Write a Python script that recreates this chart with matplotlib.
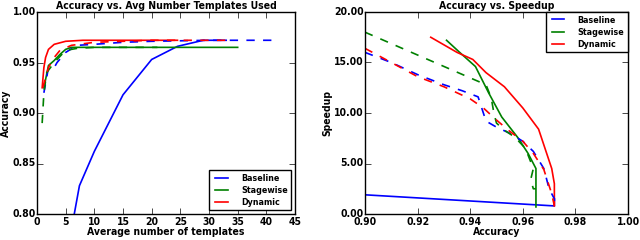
import matplotlib
matplotlib.use("Agg")
import matplotlib.pyplot as plt
from matplotlib.ticker import FormatStrFormatter

plt.style.use("classic")
plt.rcParams["font.family"] = ["DejaVu Sans"]
plt.rcParams["font.stretch"] = "condensed"
plt.rcParams["font.size"] = 7.5
plt.rcParams["font.weight"] = "bold"
plt.rcParams["axes.titleweight"] = "bold"
plt.rcParams["axes.labelweight"] = "bold"
plt.rcParams["xtick.major.pad"] = 2
plt.rcParams["ytick.major.pad"] = 1
plt.rcParams["lines.linewidth"] = 1.2

# left panel: accuracy vs. average number of templates
base_t_x = [6.5, 7.4, 10.0, 15.0, 20.0, 24.5, 29.0, 33.0]
base_t_y = [0.800, 0.828, 0.862, 0.918, 0.953, 0.966, 0.972, 0.972]
base_td_x = [1.2, 2.0, 3.0, 3.5, 5.0, 7.0, 10.0, 15.0, 20.0, 30.0, 41.5]
base_td_y = [0.920, 0.945, 0.945, 0.950, 0.960, 0.967, 0.968, 0.970, 0.971, 0.972, 0.972]
stage_t_x = [1.2, 2.0, 3.0, 4.0, 5.0, 6.0, 35.0]
stage_t_y = [0.925, 0.947, 0.952, 0.958, 0.963, 0.965, 0.965]
stage_td_x = [0.9, 1.2, 1.7, 3.0, 5.0, 7.0, 10.0, 21.0]
stage_td_y = [0.890, 0.920, 0.940, 0.950, 0.962, 0.964, 0.965, 0.965]
dyn_t_x = [0.9, 1.2, 1.5, 2.0, 3.0, 5.0, 8.0, 24.5]
dyn_t_y = [0.925, 0.945, 0.955, 0.963, 0.968, 0.971, 0.972, 0.972]
dyn_td_x = [1.0, 1.5, 2.0, 3.0, 4.0, 6.0, 10.0, 20.0, 33.5]
dyn_td_y = [0.925, 0.935, 0.945, 0.955, 0.962, 0.967, 0.970, 0.972, 0.972]

# right panel: speedup vs. accuracy
base_s_x = [0.900, 0.972, 0.972]
base_s_y = [1.9, 0.8, 1.5]
base_sd_x = [0.900, 0.910, 0.920, 0.930, 0.937, 0.943, 0.945, 0.946, 0.950, 0.955,
             0.960, 0.964, 0.968, 0.970, 0.972, 0.972]
base_sd_y = [16.0, 15.0, 13.8, 12.8, 12.2, 11.6, 10.0, 9.2, 8.6, 8.0,
             7.2, 6.2, 4.5, 2.5, 1.5, 0.8]
stage_s_x = [0.931, 0.936, 0.942, 0.947, 0.952, 0.958, 0.962, 0.965, 0.965]
stage_s_y = [17.2, 16.0, 14.6, 12.0, 9.6, 7.6, 6.0, 4.5, 0.7]
stage_sd_x = [0.900, 0.946, 0.948, 0.949, 0.950, 0.953, 0.957, 0.961, 0.964, 0.963, 0.964, 0.965]
stage_sd_y = [18.0, 12.8, 11.5, 10.0, 9.0, 8.3, 7.6, 6.5, 4.5, 3.4, 2.5, 2.5]
dyn_s_x = [0.925, 0.935, 0.941, 0.946, 0.953, 0.960, 0.966, 0.971, 0.972, 0.972]
dyn_s_y = [17.5, 16.0, 15.3, 14.0, 12.6, 10.5, 8.4, 4.5, 3.0, 0.8]
dyn_sd_x = [0.900, 0.910, 0.920, 0.930, 0.940, 0.945, 0.950, 0.955, 0.960, 0.964,
            0.968, 0.971, 0.972]
dyn_sd_y = [16.4, 15.0, 13.6, 12.6, 11.4, 10.5, 9.3, 8.2, 7.2, 6.0, 4.4, 2.0, 0.8]

fig = plt.figure(figsize=(6.4, 2.4), dpi=100)
fig.patch.set_facecolor("white")
ax1 = fig.add_axes([37 / 640, 26 / 240, 258 / 640, 202 / 240])
ax2 = fig.add_axes([365 / 640, 26 / 240, 263 / 640, 202 / 240])

ax1.plot(base_t_x, base_t_y, "b-", label="Baseline")
ax1.plot(stage_t_x, stage_t_y, "g-", label="Stagewise")
ax1.plot(dyn_t_x, dyn_t_y, "r-", label="Dynamic")
ax1.plot(base_td_x, base_td_y, "b--")
ax1.plot(stage_td_x, stage_td_y, "g--")
ax1.plot(dyn_td_x, dyn_td_y, "r--")
ax1.set_xlim(0, 45)
ax1.set_ylim(0.80, 1.00)
ax1.yaxis.set_major_formatter(FormatStrFormatter("%.2f"))
ax1.set_title("Accuracy vs. Avg Number Templates Used", fontsize=7.5, pad=2)
ax1.set_xlabel("Average number of templates", labelpad=0)
ax1.set_ylabel("Accuracy", labelpad=1)
ax1.legend(loc="lower right", fontsize=6.4, handlelength=2.0, borderpad=0.4,
           labelspacing=0.35, handletextpad=1.2, borderaxespad=0.4)

ax2.plot(base_s_x, base_s_y, "b-", label="Baseline")
ax2.plot(stage_s_x, stage_s_y, "g-", label="Stagewise")
ax2.plot(dyn_s_x, dyn_s_y, "r-", label="Dynamic")
ax2.plot(base_sd_x, base_sd_y, "b--")
ax2.plot(stage_sd_x, stage_sd_y, "g--")
ax2.plot(dyn_sd_x, dyn_sd_y, "r--")
ax2.set_xlim(0.90, 1.00)
ax2.set_ylim(0, 20)
ax2.set_xticks([0.90, 0.92, 0.94, 0.96, 0.98, 1.00])
ax2.set_yticks([0, 5, 10, 15, 20])
ax2.xaxis.set_major_formatter(FormatStrFormatter("%.2f"))
ax2.yaxis.set_major_formatter(FormatStrFormatter("%.2f"))
ax2.set_title("Accuracy vs. Speedup", fontsize=7.5, pad=2)
ax2.set_xlabel("Accuracy", labelpad=0)
ax2.set_ylabel("Speedup", labelpad=1)
ax2.legend(loc="upper right", fontsize=6.4, handlelength=2.0, borderpad=0.4,
           labelspacing=0.35, handletextpad=1.2, borderaxespad=0.0)

fig.savefig("out.png", dpi=100, facecolor="white")
